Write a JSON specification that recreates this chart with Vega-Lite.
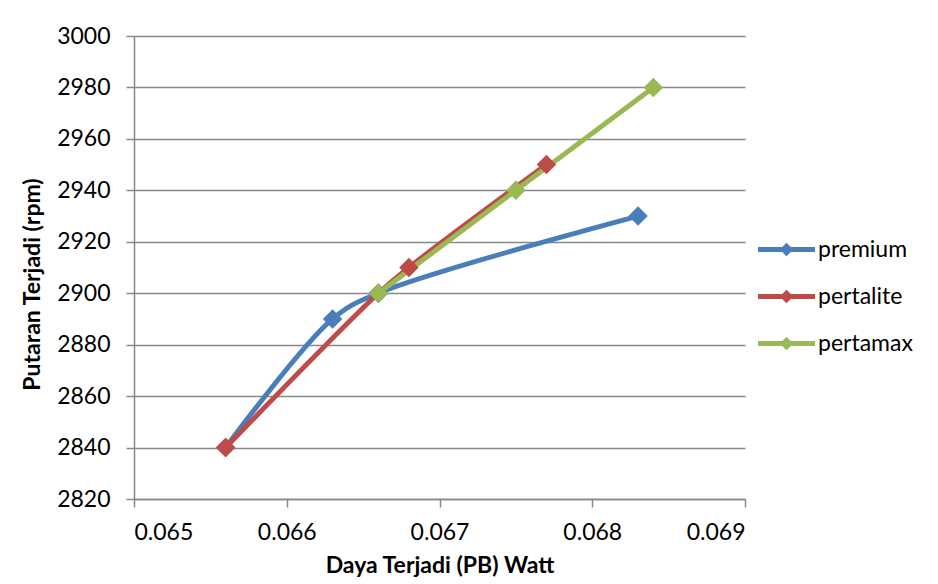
{
  "$schema": "https://vega.github.io/schema/vega-lite/v6.json",
  "width": 611,
  "height": 463,
  "autosize": {"type": "none"},
  "padding": {"left": 134, "top": 36, "right": 193, "bottom": 85},
  "background": "white",
  "config": {
    "font": "Lato",
    "view": {"stroke": null},
    "axis": {"labelFont": "Lato", "titleFont": "Lato", "labelColor": "#000", "titleColor": "#000"}
  },
  "data": {
    "values": [
      {"series": "premium", "daya": 0.0656, "putaran": 2840},
      {"series": "premium", "daya": 0.0663, "putaran": 2890},
      {"series": "premium", "daya": 0.0666, "putaran": 2900},
      {"series": "premium", "daya": 0.0683, "putaran": 2930},
      {"series": "pertalite", "daya": 0.0656, "putaran": 2840},
      {"series": "pertalite", "daya": 0.0666, "putaran": 2900},
      {"series": "pertalite", "daya": 0.0668, "putaran": 2910},
      {"series": "pertalite", "daya": 0.0677, "putaran": 2950},
      {"series": "pertamax", "daya": 0.0666, "putaran": 2900},
      {"series": "pertamax", "daya": 0.0675, "putaran": 2940},
      {"series": "pertamax", "daya": 0.0684, "putaran": 2980}
    ]
  },
  "encoding": {
    "x": {
      "field": "daya", "type": "quantitative",
      "scale": {"domain": [0.065, 0.069], "nice": false, "zero": false},
      "axis": {
        "title": "Daya Terjadi (PB) Watt",
        "values": [0.065, 0.066, 0.067, 0.068, 0.069],
        "format": ".3f",
        "grid": false,
        "labelFontSize": 23, "titleFontSize": 23, "titleFontWeight": "bold",
        "tickSize": 8, "tickColor": "#888", "tickWidth": 1.5,
        "domainColor": "#888", "domainWidth": 1.5,
        "labelPadding": 14, "titlePadding": 10
      }
    },
    "y": {
      "field": "putaran", "type": "quantitative",
      "scale": {"domain": [2820, 3000], "nice": false, "zero": false},
      "axis": {
        "title": "Putaran Terjadi (rpm)",
        "values": [2820, 2840, 2860, 2880, 2900, 2920, 2940, 2960, 2980, 3000],
        "format": "d",
        "grid": true, "gridColor": "#888", "gridWidth": 1.5,
        "labelFontSize": 23, "titleFontSize": 23, "titleFontWeight": "bold",
        "tickSize": 8, "tickColor": "#888", "tickWidth": 1.5,
        "domainColor": "#888", "domainWidth": 1.5,
        "labelPadding": 16, "titlePadding": 12,
        "titleY": 248
      }
    },
    "color": {
      "field": "series", "type": "nominal",
      "sort": ["premium", "pertalite", "pertamax"],
      "scale": {"domain": ["premium", "pertalite", "pertamax"], "range": ["#4a7ebb", "#be4b48", "#98b954"]},
      "legend": {
        "title": null,
        "orient": "none",
        "legendX": 624,
        "legendY": 185,
        "labelFontSize": 23,
        "labelColor": "#000",
        "labelFont": "Lato",
        "symbolType": "M-1,-0.09L-0.15,-0.09L0,-0.24L0.15,-0.09L1,-0.09L1,0.09L0.15,0.09L0,0.24L-0.15,0.09L-1,0.09Z",
        "symbolSize": 3249,
        "symbolStrokeWidth": 0,
        "symbolOpacity": 1,
        "labelOffset": 3,
        "rowPadding": 6
      }
    }
  },
  "layer": [
    {
      "mark": {"type": "line", "interpolate": "catmull-rom", "strokeWidth": 5, "strokeCap": "round"},
      "encoding": {"order": {"field": "daya", "type": "quantitative"}}
    },
    {
      "mark": {"type": "point", "shape": "diamond", "filled": true, "size": 380, "opacity": 1}
    }
  ]
}
